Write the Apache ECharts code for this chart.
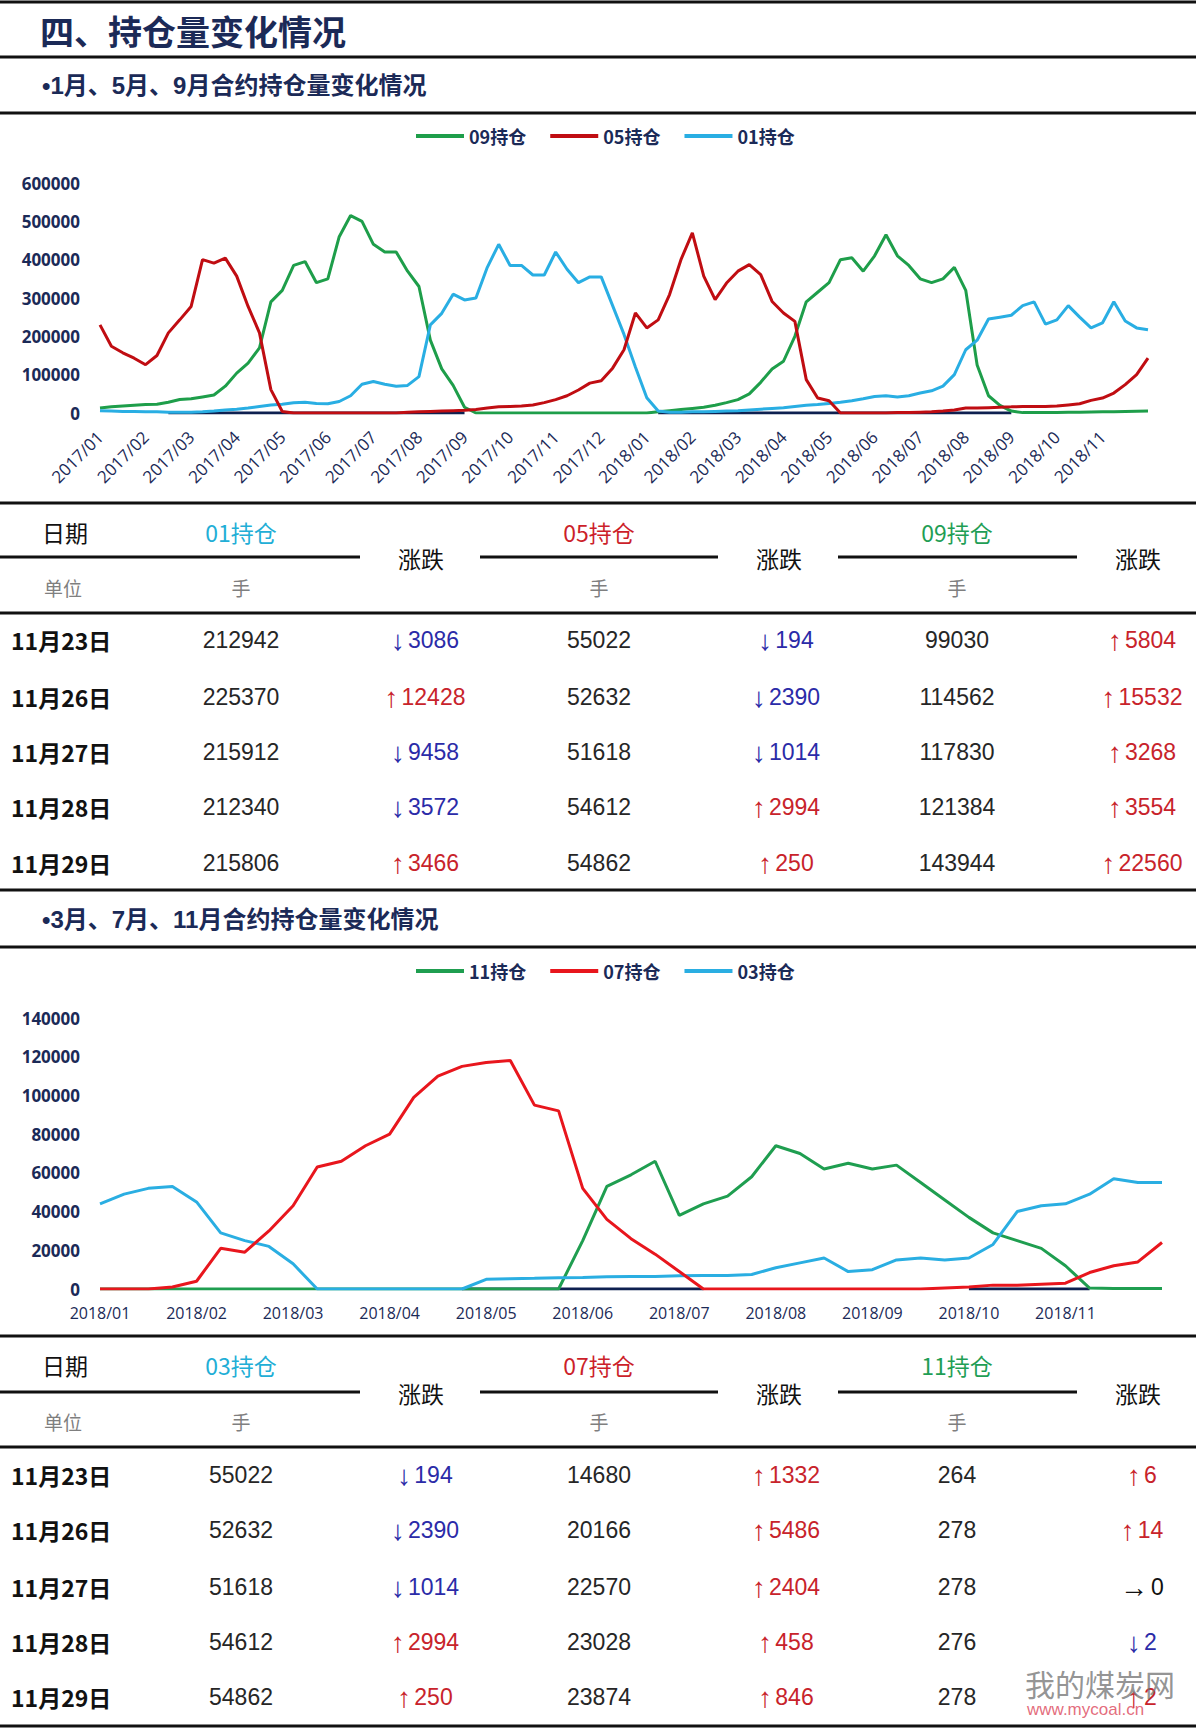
<!DOCTYPE html>
<html><head><meta charset="utf-8">
<script src="https://cdn.jsdelivr.net/npm/echarts@6/dist/echarts.min.js"></script>
<style>html,body{margin:0;padding:0;background:#fff}#c{width:1200px;height:1729px}</style>
</head><body><div id="c"></div><script>
// ---------- DATA ----------
const months1 = ['2017/01','2017/02','2017/03','2017/04','2017/05','2017/06','2017/07','2017/08','2017/09','2017/10','2017/11','2017/12','2018/01','2018/02','2018/03','2018/04','2018/05','2018/06','2018/07','2018/08','2018/09','2018/10','2018/11','2018/12'];
const months2 = ['2018/01','2018/02','2018/03','2018/04','2018/05','2018/06','2018/07','2018/08','2018/09','2018/10','2018/11','2018/12'];
const yTicks1 = {min:0, max:600000, step:100000};
const yTicks2 = {min:0, max:140000, step:20000};

const hold09 = [13000,16000,18000,20000,22000,23000,28000,35000,37000,42000,
47000,70000,104000,130000,170000,290000,320000,385000,395000,340000,
350000,460000,515000,500000,440000,420000,420000,370000,330000,190000,
115000,72000,15000,0,0,0,0,0,0,0,
0,0,0,0,0,0,0,0,0,3000,
6000,9000,12000,15000,20000,27000,35000,50000,80000,115000,
135000,200000,290000,315000,340000,400000,405000,370000,410000,465000,
410000,385000,350000,340000,350000,380000,320000,125000,45000,20000,
5000,1000,1000,1500,1500,2000,2000,2500,3000,3500,
4000,4500,5000];
const hold05 = [230000,174000,157000,143000,126000,150000,209000,243000,278000,400000,
391000,404000,357000,278000,209000,61000,4000,0,0,0,
0,0,0,0,0,0,0,2000,3000,4000,
5000,6000,7000,9000,13000,16000,17000,18000,21000,27000,
35000,45000,60000,78000,84000,117000,165000,261000,222000,243000,
309000,400000,470000,357000,296000,339000,370000,387000,361000,291000,
261000,239000,87000,39000,32000,0,0,0,0,0,
1000,1000,2000,3000,5000,8000,13000,13000,14000,15000,
16000,17000,17000,17000,18000,21000,24000,33000,39000,52000,
74000,100000,143000];
const hold01 = [6000,5000,4000,4000,3000,3000,2000,2000,2000,3000,
5000,8000,10000,13000,17000,21000,23000,27000,28000,25000,
24000,30000,45000,75000,82000,75000,70000,72000,95000,230000,
260000,310000,295000,300000,380000,440000,385000,385000,360000,360000,
420000,375000,340000,355000,355000,280000,205000,120000,40000,5000,
2000,2000,3000,3000,4000,5000,6000,8000,10000,12000,
14000,17000,20000,22000,25000,28000,32000,37000,43000,45000,
42000,45000,52000,58000,70000,100000,165000,190000,245000,250000,
255000,280000,290000,232000,243000,280000,250000,222000,235000,290000,
240000,222000,217000];
const base1Ranges = [[6,32],[49,80]];

const hold11 = [0,0,0,0,0,0,0,0,0,0,0,0,0,0,0,0,0,0,0,0,
25000,53000,59000,66000,38000,44000,48000,58000,74000,70000,
62000,65000,62000,64000,55000,46000,37000,29000,25000,21000,
12000,500,300,300,300];
const hold07 = [0,0,0,1000,4000,21000,19000,30000,43000,63000,
66000,74000,80000,99000,110000,115000,117000,118000,95000,92000,
52000,36000,26000,18000,9000,0,0,0,0,0,
0,0,0,0,0,500,1000,2000,2000,2500,
3000,8500,12000,14000,24000];
const hold03 = [44000,49000,52000,53000,45000,29000,25000,22000,13000,0,
0,0,0,0,0,0,5000,5300,5500,5800,
6000,6300,6500,6500,6800,7000,7000,7500,11000,13500,
16000,9000,10000,15000,16000,15000,16000,23000,40000,43000,
44000,49000,57000,55000,55000];
const base2Ranges = [[15,25],[36,41]];

const tDates = ['11月23日','11月26日','11月27日','11月28日','11月29日'];
const t1Hold01 = [212942,225370,215912,212340,215806];
const t1Chg01  = [-3086,12428,-9458,-3572,3466];
const t1Hold05 = [55022,52632,51618,54612,54862];
const t1Chg05  = [-194,-2390,-1014,2994,250];
const t1Hold09 = [99030,114562,117830,121384,143944];
const t1Chg09  = [5804,15532,3268,3554,22560];
const t2Hold03 = [55022,52632,51618,54612,54862];
const t2Chg03  = [-194,-2390,-1014,2994,250];
const t2Hold07 = [14680,20166,22570,23028,23874];
const t2Chg07  = [1332,5486,2404,458,846];
const t2Hold11 = [264,278,278,276,278];
const t2Chg11  = [6,14,0,-2,2];

// ---------- BUILD ----------
const N1 = hold01.length, N2 = hold03.length;
function cats(months, n){ const out=[]; months.forEach(m=>{for(let k=0;k<4;k++) out.push(k===0?m:m+'#'+k);}); return out.slice(0,n); }
const cats1 = cats(months1, N1), cats2 = cats(months2, N2);
function baseSeries(n, ranges){ const a=new Array(n).fill(null); ranges.forEach(r=>{for(let i=r[0];i<=r[1];i++) a[i]=0;}); return a; }

const NAVY = '#1b2a57';
const CJK = '"Noto Sans CJK SC", sans-serif';
const NUM = '"Liberation Sans", Arial, sans-serif';
const SUB = '"Liberation Sans", "Noto Sans CJK SC", sans-serif';

const G = [];
function hline(y, x1, x2, w){ G.push({type:'rect', silent:true, shape:{x:x1, y:y-w/2, width:x2-x1, height:w}, style:{fill:'#111'}}); }
function txt(x, y, s, font, fill, align, extra){ const st = {text:s, font:font, fill:fill, align:align||'center', verticalAlign:'middle', textAlign:align||'center', textVerticalAlign:'middle'}; if(extra) Object.assign(st, extra); G.push({type:'text', silent:true, x:x, y:y, style:st}); }

// header
hline(2, 0, 1196, 3);
txt(40, 30, '四、持仓量变化情况', 'bold 34px '+CJK, NAVY, 'left');
hline(57, 0, 1196, 3);
txt(42, 85, '•1月、5月、9月合约持仓量变化情况', 'bold 24px '+SUB, NAVY, 'left');
hline(113, 0, 1196, 3);

function fmtChg(v){ if(v>0) return {a:'↑', s:String(v), c:'#c8232b'}; if(v<0) return {a:'↓', s:String(-v), c:'#2b2ba8'}; return {a:'→', s:'0', c:'#111'}; }

function table(L, heads, headColors, h1, c1, h2, c2, h3, c3){
  hline(L.top, 0, 1196, 3);
  txt(65, L.head, '日期', '23px '+CJK, '#111');
  const cx = [241, 599, 957], chx = [425, 786, 1142], zx = [421, 779, 1138];
  heads.forEach((h,i)=>txt(cx[i], L.head, h, '23px '+CJK, headColors[i]));
  hline(L.under, 0, 360, 3); hline(L.under, 480, 718, 3); hline(L.under, 838, 1077, 3);
  zx.forEach(x=>txt(x, L.under+1, '涨跌', '23px '+CJK, '#111'));
  txt(63, L.unit, '单位', '19px '+CJK, '#7f7f7f');
  cx.forEach(x=>txt(x, L.unit, '手', '19px '+CJK, '#7f7f7f'));
  hline(L.line, 0, 1196, 3);
  const H=[h1,h2,h3], C=[c1,c2,c3];
  tDates.forEach((d,r)=>{
    const yy = L.rows[r];
    txt(11, yy, d, 'bold 23px '+CJK, '#111', 'left');
    for(let k=0;k<3;k++){
      txt(cx[k], yy, String(H[k][r]), '23px '+NUM, '#262626');
      const f = fmtChg(C[k][r]);
      txt(chx[k], yy, '{a|'+f.a+'}{b|'+f.s+'}', '23px '+NUM, f.c, 'center', {
        rich:{
          a:{font:'28px '+NUM, fill:f.c, padding:[0,3,0,0], verticalAlign:'middle'},
          b:{font:'23px '+NUM, fill:f.c, verticalAlign:'middle'}
        }
      });
    }
  });
  hline(L.bottom, 0, 1196, 3);
}
table({top:503, head:532, under:557, unit:587, line:613, rows:[640,697,752,807,863], bottom:890},
  ['01持仓','05持仓','09持仓'], ['#22aed6','#cc1f2a','#1f9e55'], t1Hold01,t1Chg01,t1Hold05,t1Chg05,t1Hold09,t1Chg09);

txt(42, 919, '•3月、7月、11月合约持仓量变化情况', 'bold 24px '+SUB, NAVY, 'left');
hline(947, 0, 1196, 3);

table({top:1336, head:1365, under:1392, unit:1421, line:1447, rows:[1475,1530,1587,1642,1697], bottom:1726},
  ['03持仓','07持仓','11持仓'], ['#22aed6','#cc1f2a','#1f9e55'], t2Hold03,t2Chg03,t2Hold07,t2Chg07,t2Hold11,t2Chg11);

// watermark
txt(1025, 1683, '我的煤炭网', '30px '+CJK, 'rgba(120,120,120,0.8)', 'left');
txt(1027, 1709, 'www.mycoal.cn', '17px '+NUM, 'rgba(220,70,90,0.8)', 'left');

// ---------- CHART OPTION ----------
const yLab = {fontWeight:'bold', fontSize:17, fontFamily:'"Open Sans", sans-serif', color:NAVY, margin:20, formatter:(v)=>String(v)};
function lineS(name, data, color, xi, z){ return {name, type:'line', data, xAxisIndex:xi, yAxisIndex:xi, symbol:'none', showSymbol:false, lineStyle:{width:3, color}, itemStyle:{color}, z, animation:false}; }

const option = {
  animation:false,
  backgroundColor:'#fff',
  graphic:{elements:G},
  legend:[
    {data:['09持仓','05持仓','01持仓'], left:411, top:122, icon:'rect', itemWidth:48, itemHeight:4, itemGap:24, textStyle:{fontSize:18, fontWeight:'bold', color:NAVY, fontFamily:CJK}},
    {data:['11持仓','07持仓','03持仓'], left:411, top:957, icon:'rect', itemWidth:48, itemHeight:4, itemGap:24, textStyle:{fontSize:18, fontWeight:'bold', color:NAVY, fontFamily:CJK}}
  ],
  grid:[
    {left:100, right:52, top:183, height:230},
    {left:100, right:38, top:1018, height:271}
  ],
  xAxis:[
    {type:'category', gridIndex:0, data:cats1, boundaryGap:false, axisLine:{show:false}, axisTick:{show:false},
     axisLabel:{interval:(i)=>i%4===0 && i<=88, formatter:(v)=>v.split('#')[0], rotate:45, margin:21, fontSize:17, color:NAVY, fontFamily:'"Open Sans", sans-serif'}},
    {type:'category', gridIndex:1, data:cats2, boundaryGap:false, axisLine:{show:false}, axisTick:{show:false},
     axisLabel:{interval:(i)=>i%4===0 && i<=40, formatter:(v)=>v.split('#')[0], margin:16, fontSize:16, color:NAVY, fontFamily:'"Open Sans", sans-serif'}}
  ],
  yAxis:[
    {type:'value', gridIndex:0, min:yTicks1.min, max:yTicks1.max, interval:yTicks1.step, splitLine:{show:false}, axisLine:{show:false}, axisTick:{show:false}, axisLabel:yLab},
    {type:'value', gridIndex:1, min:yTicks2.min, max:yTicks2.max, interval:yTicks2.step, splitLine:{show:false}, axisLine:{show:false}, axisTick:{show:false}, axisLabel:yLab}
  ],
  series:[
    lineS('底线1', baseSeries(N1, base1Ranges), '#0e2050', 0, 1),
    lineS('09持仓', hold09, '#1e9e4a', 0, 2),
    lineS('01持仓', hold01, '#29aee3', 0, 3),
    lineS('05持仓', hold05, '#c00d12', 0, 4),
    lineS('底线2', baseSeries(N2, base2Ranges), '#0e2050', 1, 1),
    lineS('11持仓', hold11, '#1f9e50', 1, 2),
    lineS('03持仓', hold03, '#2aaee2', 1, 3),
    lineS('07持仓', hold07, '#e8161d', 1, 4)
  ]
};
const chart = echarts.init(document.getElementById('c'), null, {renderer:'svg'});
chart.setOption(option);
</script></body></html>
